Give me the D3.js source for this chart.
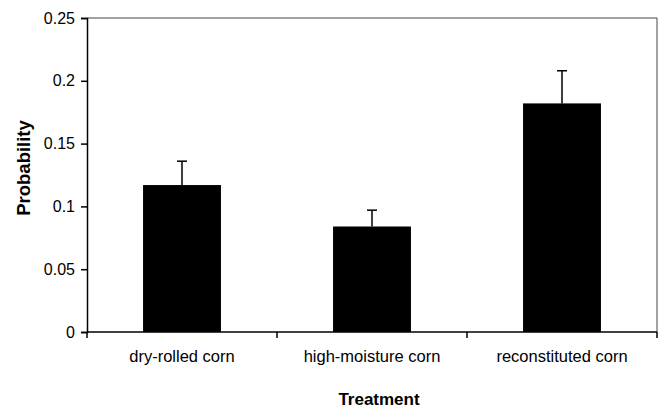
<!DOCTYPE html>
<meta charset="utf-8">
<style>
body { margin: 0; background: #fff; }
text { font-family: "Liberation Sans", Arial, sans-serif; fill: #000; }
.axis path, .axis line { stroke: #000; stroke-width: 1.5px; }
</style>
<body>
<script src="https://cdn.jsdelivr.net/npm/d3@7"></script>
<script>

// data
var treatments = ["dry-rolled corn", "high-moisture corn", "reconstituted corn"];
var probability = [0.117, 0.084, 0.182];
var stdError = [0.019, 0.013, 0.026];
var yTicks = [0, 0.05, 0.1, 0.15, 0.2, 0.25];

var width = 659, height = 411;
var margin = {top: 18, right: 2, bottom: 79, left: 87};
var w = width - margin.left - margin.right,
    h = height - margin.top - margin.bottom;

var svg = d3.select("body").append("svg")
    .attr("width", width)
    .attr("height", height)
  .append("g")
    .attr("transform", "translate(" + margin.left + "," + margin.top + ")");

var x = d3.scaleBand()
    .domain(treatments)
    .range([0, w])
    .padding(0);

var y = d3.scaleLinear()
    .domain([0, 0.25])
    .range([h, 0]);

var barW = x.step() * 0.41;

// plot frame (top and right)
svg.append("path")
    .attr("d", "M0,0H" + w + "V" + h)
    .attr("fill", "none")
    .attr("stroke", "#444")
    .attr("stroke-width", 1);

var rows = treatments.map(function(t, i) {
  return {name: t, value: probability[i], se: stdError[i]};
});

svg.selectAll("rect.bar")
    .data(rows)
  .enter().append("rect")
    .attr("class", "bar")
    .attr("x", function(d) { return x(d.name) + x.bandwidth() / 2 - barW / 2; })
    .attr("y", function(d) { return y(d.value); })
    .attr("width", barW)
    .attr("height", function(d) { return h - y(d.value); })
    .attr("fill", "#000");

// error bars (upper only)
var err = svg.selectAll("g.err")
    .data(rows)
  .enter().append("g")
    .attr("class", "err")
    .attr("transform", function(d) { return "translate(" + (x(d.name) + x.bandwidth() / 2) + ",0)"; });

err.append("line")
    .attr("y1", function(d) { return y(d.value); })
    .attr("y2", function(d) { return y(d.value + d.se); })
    .attr("stroke", "#000").attr("stroke-width", 1.5);

err.append("line")
    .attr("x1", -5).attr("x2", 5)
    .attr("y1", function(d) { return y(d.value + d.se); })
    .attr("y2", function(d) { return y(d.value + d.se); })
    .attr("stroke", "#000").attr("stroke-width", 1.5);

// y axis
var yAxis = svg.append("g")
    .attr("class", "axis")
    .call(d3.axisLeft(y).tickValues(yTicks).tickSize(6).tickPadding(6).tickFormat(d3.format("")));
yAxis.selectAll("text").style("font-size", "16px");

// x axis with ticks at category boundaries
var xAxis = svg.append("g")
    .attr("class", "axis")
    .attr("transform", "translate(0," + h + ")");
xAxis.append("path").attr("d", "M0,0H" + w).attr("fill", "none");
xAxis.selectAll("line.tick")
    .data(d3.range(treatments.length + 1))
  .enter().append("line")
    .attr("x1", function(i) { return i * x.step(); })
    .attr("x2", function(i) { return i * x.step(); })
    .attr("y1", 0).attr("y2", 6);
xAxis.selectAll("text")
    .data(treatments)
  .enter().append("text")
    .attr("x", function(d) { return x(d) + x.bandwidth() / 2; })
    .attr("y", 30)
    .attr("text-anchor", "middle")
    .style("font-size", "16.5px")
    .text(function(d) { return d; });

// axis titles
svg.append("text")
    .attr("x", w / 2 + 7)
    .attr("y", h + 73)
    .attr("text-anchor", "middle")
    .style("font-size", "17px")
    .style("font-weight", "bold")
    .text("Treatment");

svg.append("text")
    .attr("transform", "translate(" + (-margin.left + 30) + "," + (h / 2 - 7) + ") rotate(-90)")
    .attr("text-anchor", "middle")
    .style("font-size", "18.5px")
    .style("font-weight", "bold")
    .text("Probability");

</script>
